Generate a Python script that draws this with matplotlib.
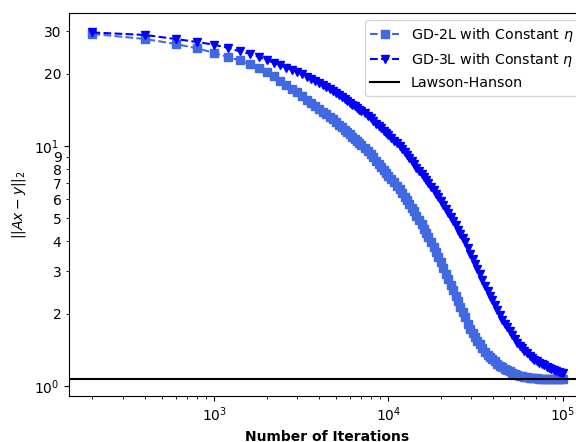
import numpy as np
import matplotlib
matplotlib.use('Agg')
import matplotlib.pyplot as plt
from matplotlib import ticker

iterations = [200, 400, 600, 800, 1000, 1200, 1400, 1600, 1800, 2000,
              2200, 2400, 2600, 2800, 3000, 3200, 3400, 3600, 3800, 4000,
              4200, 4400, 4600, 4800, 5000, 5200, 5400, 5600, 5800, 6000,
              6200, 6400, 6600, 6800, 7000, 7300, 7600, 7900, 8200, 8500,
              8800, 9100, 9400, 9700, 10000, 10400, 10800, 11200, 11600, 12000,
              12400, 12800, 13200, 13600, 14000, 14500, 15000, 15500, 16000, 16500,
              17000, 17600, 18200, 18800, 19400, 20000, 20700, 21400, 22100, 22800,
              23500, 24300, 25100, 25900, 26700, 27500, 28500, 29500, 30500, 31500,
              32500, 33500, 34700, 35900, 37100, 38300, 39500, 40700, 42200, 43700,
              45200, 46700, 48200, 49700, 51500, 53300, 55100, 56900, 58700, 60500,
              62600, 64700, 66800, 68900, 71000, 73500, 76000, 78500, 81000, 83500,
              86000, 89000, 92000, 95000, 98000, 100000]

# residual norms ||Ax - y||_2
gd_2l = [29.3, 27.9, 26.6, 25.5, 24.4, 23.5, 22.7, 21.9, 21.1, 20.3,
         19.5, 18.7, 18.0, 17.3, 16.7, 16.15, 15.6, 15.1, 14.67, 14.27,
         13.89, 13.54, 13.21, 12.9, 12.58, 12.26, 11.97, 11.68, 11.42, 11.17,
         10.94, 10.71, 10.5, 10.3, 10.11, 9.84, 9.57, 9.25, 8.96, 8.68,
         8.42, 8.18, 7.95, 7.74, 7.53, 7.28, 7.05, 6.82, 6.61, 6.38,
         6.14, 5.93, 5.72, 5.51, 5.34, 5.12, 4.92, 4.71, 4.51, 4.33,
         4.17, 3.99, 3.8, 3.61, 3.43, 3.27, 3.09, 2.93, 2.78, 2.64,
         2.51, 2.375, 2.256, 2.14, 2.04, 1.94, 1.82, 1.735, 1.665, 1.6,
         1.54, 1.49, 1.435, 1.39, 1.352, 1.32, 1.291, 1.266, 1.24, 1.215,
         1.195, 1.178, 1.163, 1.15, 1.137, 1.124, 1.113, 1.105, 1.098, 1.093,
         1.088, 1.083, 1.08, 1.077, 1.075, 1.073, 1.071, 1.07, 1.069, 1.068,
         1.067, 1.067, 1.066, 1.066, 1.065, 1.065]

gd_3l = [29.7, 29.0, 27.9, 27.1, 26.4, 25.6, 24.8, 24.2, 23.5, 22.8,
         22.2, 21.65, 21.17, 20.73, 20.32, 19.9, 19.42, 18.99, 18.58, 18.21,
         17.87, 17.53, 17.23, 16.94, 16.6, 16.27, 15.96, 15.67, 15.38, 15.12,
         14.87, 14.62, 14.4, 14.18, 13.97, 13.67, 13.37, 13.03, 12.7, 12.39,
         12.1, 11.83, 11.56, 11.31, 11.08, 10.79, 10.52, 10.25, 10.0, 9.73,
         9.42, 9.15, 8.89, 8.64, 8.41, 8.13, 7.87, 7.63, 7.4, 7.19,
         6.99, 6.77, 6.54, 6.32, 6.1, 5.9, 5.68, 5.47, 5.27, 5.08,
         4.89, 4.67, 4.48, 4.29, 4.12, 3.96, 3.77, 3.56, 3.38, 3.21,
         3.06, 2.92, 2.76, 2.62, 2.49, 2.38, 2.28, 2.18, 2.08, 1.97,
         1.89, 1.82, 1.755, 1.694, 1.625, 1.564, 1.512, 1.47, 1.434, 1.402,
         1.368, 1.336, 1.308, 1.282, 1.265, 1.248, 1.233, 1.219, 1.205, 1.192,
         1.18, 1.168, 1.157, 1.147, 1.137, 1.131]

lawson_hanson = 1.068

fig = plt.figure(figsize=(5.76, 4.42), dpi=100)
# the original axes runs a little past the right edge of the picture
ax = fig.add_axes([69/576, 46/442, 517/576, 383/442])

ax.plot(iterations, gd_2l, '--', color='royalblue', marker='s',
        label=r'GD-2L with Constant $\eta$')
ax.plot(iterations, gd_3l, '--', color='blue', marker='v',
        label=r'GD-3L with Constant $\eta$')
ax.axhline(lawson_hanson, color='black', linewidth=1.5, label='Lawson-Hanson')

ax.set_xscale('log')
ax.set_yscale('log')
ax.set_ylim(0.908, 35.8)
ax.yaxis.set_minor_formatter(ticker.FuncFormatter(lambda v, pos: f'{v:g}'))

ax.set_xlabel('Number of Iterations', fontweight='bold')
ax.set_ylabel(r'$||Ax-y||_2$')
ax.legend(loc='upper right', fontsize=10.3)

fig.savefig('out.png', dpi=100)
